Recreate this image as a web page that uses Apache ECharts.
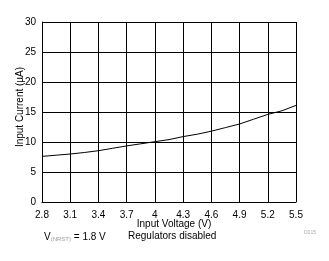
<!DOCTYPE html>
<html><head><meta charset="utf-8">
<script src="https://cdn.jsdelivr.net/npm/echarts@6/dist/echarts.min.js"></script>
<style>html,body{margin:0;padding:0;background:#fff}#c{width:329px;height:261px}</style>
</head><body><div id="c"></div>
<script>
const voltage = [2.8, 2.95, 3.1, 3.25, 3.4, 3.55, 3.7, 3.85, 4.0, 4.15, 4.3, 4.45, 4.6, 4.75, 4.9, 5.05, 5.2, 5.35, 5.5];
const current = [7.6, 7.8, 8.0, 8.25, 8.55, 8.95, 9.35, 9.7, 10.05, 10.4, 10.9, 11.3, 11.8, 12.4, 13.0, 13.8, 14.6, 15.2, 16.1];
const xMin = 2.8, xMax = 5.5, xStep = 0.3;
const yMin = 0, yMax = 30, yStep = 5;

const chart = echarts.init(document.getElementById('c'), null, {renderer: 'canvas'});
const font = 'Arial, "Liberation Sans", sans-serif';
chart.setOption({
  animation: false,
  backgroundColor: '#fff',
  grid: {left: 42, right: 33, top: 22, bottom: 59},
  xAxis: {
    type: 'value', min: 0, max: +(xMax - xMin).toFixed(1), interval: xStep,
    name: 'Input Voltage (V)', nameLocation: 'middle', nameGap: 17, nameMoveOverlap: false,
    nameTextStyle: {fontFamily: font, fontSize: 10, color: '#000', padding: [0, 0, 0, 10]},
    axisLine: {show: true, lineStyle: {color: '#000', width: 1}},
    axisTick: {show: false},
    axisLabel: {fontFamily: font, fontSize: 10, color: '#000', margin: 8,
      formatter: v => String(parseFloat((v + xMin).toFixed(1)))},
    splitLine: {show: true, lineStyle: {color: '#000', width: 1}}
  },
  yAxis: {
    type: 'value', min: yMin, max: yMax, interval: yStep,
    name: 'Input Current (µA)', nameLocation: 'middle', nameGap: 17, nameMoveOverlap: false,
    nameTextStyle: {fontFamily: font, fontSize: 10, color: '#000', padding: [0, 0, 0, 10]},
    axisLine: {show: true, lineStyle: {color: '#000', width: 1}},
    axisTick: {show: false},
    axisLabel: {fontFamily: font, fontSize: 10, color: '#000', margin: 6},
    splitLine: {show: true, lineStyle: {color: '#000', width: 1}}
  },
  series: [{
    type: 'line', showSymbol: false, smooth: false,
    lineStyle: {color: '#000', width: 1},
    data: voltage.map((v, i) => [+(v - xMin).toFixed(3), current[i]])
  }],
  graphic: [
    {type: 'text', left: 44, top: 232, style: {
      text: 'V{s|(NRST)} = 1.8 V', fontFamily: font, fontSize: 10, fill: '#000',
      rich: {s: {fontSize: 6, fill: '#999', fontFamily: font, padding: [4, 0, 0, 0]}}}},
    {type: 'text', left: 128, top: 231, style: {text: 'Regulators disabled', fontFamily: font, fontSize: 10, fill: '#000'}},
    {type: 'text', left: 304, top: 230, style: {text: 'D015', fontFamily: font, fontSize: 5, fill: '#aaa'}}
  ]
});
</script></body></html>
